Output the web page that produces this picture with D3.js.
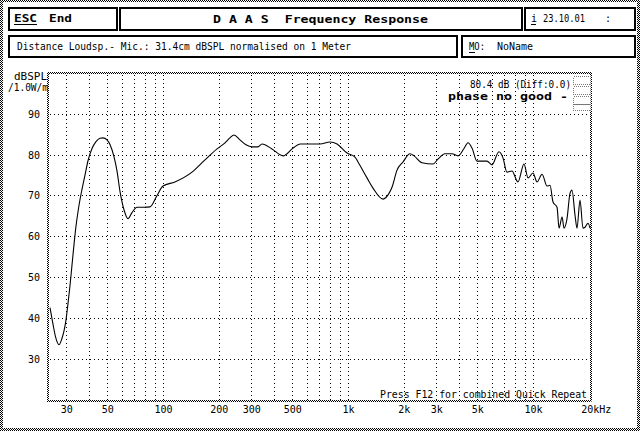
<!DOCTYPE html>
<html><head><meta charset="utf-8">
<script src="https://cdn.jsdelivr.net/npm/d3@7/dist/d3.min.js"></script>
<style>
html,body{margin:0;padding:0;background:#fff;}
svg{display:block;}
text{font-family:"DejaVu Sans Mono",monospace;fill:#000;white-space:pre;}
</style></head>
<body>
<script>
// ---- data ----
const freqs = [24.5,25.4,26.3,27.4,28.45,29.17,29.9,30.65,31.44,32.23,33.04,33.87,34.72,35.6,36.49,37.88,39.32,41.33,43.43,45.65,47.38,49.8,51.69,54.33,56.4,58.55,61.53,64.68,67.98,72.36,78.9,85.1,92.9,100,116,143.5,168.7,195.9,216.4,230,242,260.7,281,302.8,326,343,388,445.6,504.5,550.6,706,799.5,872.6,988,1091,1133,1267,1365,1546,1666,1729,1841,1983,2163,2274,2512,2880,3064,3343,3648,3935,4238,4454,4680,4980,5640,6000,6546,6883,7230,7695,8296,8940,9400,10000,10520,11190,11910,12360,12830,13490,13830,14360,14720,15280,15850,16250,16870,17300,17950,18630,19100,19820,20330];
const dbValues = [42.5,38.6,35.2,33.4,35.0,36.8,39.5,43.5,48,53,58,62.5,66,69,71.5,75,78.5,81.5,83.2,84.0,84.1,83.6,82.5,79.5,76,71,66.5,64.3,65.8,67.1,67.1,67.2,70.0,72.3,73.3,75.7,78.7,81.4,82.9,84.1,84.8,83.6,82.4,81.9,81.9,82.6,81.4,79.7,81.6,82.6,82.6,83.1,82.6,80.4,79.4,78.2,74.3,71.8,69.1,70.5,72.0,76.2,78.2,80.2,79.7,78.0,77.7,78.9,80.2,80.2,79.7,81.5,82.9,81.6,78.4,78.4,77.5,80.7,79.2,75.7,76.0,73.3,77.7,74.3,75.5,73.3,75.2,72.3,72.5,68.4,67.1,62.0,64.7,62.0,64.4,70.5,71.3,65.2,62.0,68.9,62.0,62.2,63.2,62.0];
const yTickValues = [30,40,50,60,70,80,90];
const xTickValues = [30,50,100,200,300,500,1000,2000,3000,5000,10000,20000];
const xTickText = ["30","50","100","200","300","500","1k","2k","3k","5k","10k","20kHz"];

const W = 640, H = 431;
const svg = d3.select("body").append("svg").attr("width", W).attr("height", H);
const defs = svg.append("defs");
const pat = defs.append("pattern").attr("id","chk").attr("width",2).attr("height",2).attr("patternUnits","userSpaceOnUse");
pat.append("rect").attr("x",0).attr("y",0).attr("width",1).attr("height",1).attr("fill","#000");
pat.append("rect").attr("x",1).attr("y",1).attr("width",1).attr("height",1).attr("fill","#000");

// outer checkered frame
function chkRect(x,y,w,h){ svg.append("rect").attr("x",x).attr("y",y).attr("width",w).attr("height",h).attr("fill","url(#chk)"); }
chkRect(0,0,W,2); chkRect(0,H-3,W,3); chkRect(0,0,3,H); chkRect(W-3,0,3,H);

// header boxes
function box(x1,y1,x2,y2){
  svg.append("rect").attr("x",x1+1).attr("y",y1+1).attr("width",x2-x1-2).attr("height",y2-y1-2)
    .attr("fill","none").attr("stroke","#000").attr("stroke-width",2).attr("shape-rendering","crispEdges");
}
box(8,7,118,31); box(119,7,523,31); box(524,7,636,31);
box(8,35,458,58); box(461,35,636,58);

function txt(x,y,s,opt={}){
  const t = svg.append("text").attr("x",x).attr("y",y).text(s)
    .attr("xml:space","preserve")
    .attr("font-size",opt.size||10).attr("font-weight",opt.bold?"bold":"normal");
  if(opt.len){ t.attr("textLength",opt.len).attr("lengthAdjust","spacingAndGlyphs"); }
  if(opt.anchor) t.attr("text-anchor",opt.anchor);
  return t;
}
function uline(x1,x2,y){ svg.append("line").attr("x1",x1).attr("x2",x2).attr("y1",y+0.5).attr("y2",y+0.5).attr("stroke","#000").attr("shape-rendering","crispEdges"); }

txt(14,22,"ESC",{bold:true,size:11,len:23}); uline(14,37,24);
txt(49,22,"End",{bold:true,size:11,len:23});
txt(213,23,"D A A S  Frequency Response",{bold:true,size:11,len:215});
txt(531,22,"i",{size:10}); uline(531,536,24);
txt(543,22,"23.10.01",{size:10,len:42});
txt(605,22,":",{size:10});
txt(17,50,"Distance Loudsp.- Mic.: 31.4cm dBSPL normalised on 1 Meter",{size:10,len:334});
txt(469,50,"MO:",{size:10,len:16}); uline(469,475,52);
txt(497,50,"NoName",{size:10,len:36});

// plot area
const L = 48, R = 590, T = 73, B = 399.5;
const x = d3.scaleLog().domain([23.9, 20330]).range([L, R]);
const y = d3.scaleLinear().domain([20, 100]).range([B, T]);

// grid
const g = svg.append("g").attr("shape-rendering","crispEdges");
const vgrid = x.ticks().filter(v => v >= 30 && v < 20000);
g.selectAll("line.v").data(vgrid).enter().append("line")
  .attr("x1", d => Math.round(x(d))+0.5).attr("x2", d => Math.round(x(d))+0.5)
  .attr("y1", T+2).attr("y2", B).attr("stroke","#000").attr("stroke-dasharray","1,3");
g.selectAll("line.h").data(yTickValues).enter().append("line")
  .attr("y1", d => Math.round(y(d))+0.5).attr("y2", d => Math.round(y(d))+0.5)
  .attr("x1", L+2).attr("x2", R).attr("stroke","#000").attr("stroke-dasharray","1,3");

// plot border (checkered)
chkRect(L-1, T-1, R-L+2, 2);
chkRect(L-1, Math.round(B), R-L+2, 2);
chkRect(L-1, T-1, 2, B-T+3);
chkRect(R, T-1, 2, B-T+3);

// axes
const yAxis = d3.axisLeft(y).tickValues(yTickValues).tickSize(0).tickPadding(0);
const ya = svg.append("g").attr("transform",`translate(${L-8},0)`).call(yAxis);
ya.select(".domain").remove();
ya.selectAll("text").attr("font-family","DejaVu Sans Mono").attr("font-size",10).attr("fill","#000").attr("dy","0.35em");

const xAxis = d3.axisBottom(x).tickValues(xTickValues).tickSize(0).tickPadding(0)
  .tickFormat((d,i) => xTickText[i]);
const xa = svg.append("g").attr("transform",`translate(0,${B+13})`).call(xAxis);
xa.select(".domain").remove();
xa.selectAll("text").attr("font-family","DejaVu Sans Mono").attr("font-size",10).attr("fill","#000").attr("dy",0);
xa.selectAll("text").filter((d,i) => i === xTickText.length-1).attr("text-anchor","start").attr("dx",-8);

txt(14,80,"dBSPL",{size:10,len:33});
txt(8,91,"/1.0W/m",{size:10,len:40});

// curve
const data = freqs.map((f,i) => [f, dbValues[i]]);
const line = d3.line().x(d => x(d[0])).y(d => y(d[1])).curve(d3.curveMonotoneX);
svg.append("path").datum(data).attr("d", line).attr("fill","none").attr("stroke","#000").attr("stroke-width",1.1);

// annotations
txt(470,88,"80.4 dB (Diff:0.0)",{size:10,len:101});
txt(448,100,"phase no good -",{size:11,bold:true,len:120});
txt(380,398,"Press F12 for combined Quick Repeat",{size:10,len:207});

// little legend pattern box
const lg = svg.append("g").attr("shape-rendering","crispEdges");
[[573,76,17,8],[573,86,17,8],[573,96,17,8],[573,104,17,6]].forEach(r => {
  lg.append("rect").attr("x",r[0]+0.5).attr("y",r[1]+0.5).attr("width",r[2]).attr("height",r[3])
    .attr("fill","none").attr("stroke","#777").attr("stroke-dasharray","1,1");
});
</script>
</body></html>
